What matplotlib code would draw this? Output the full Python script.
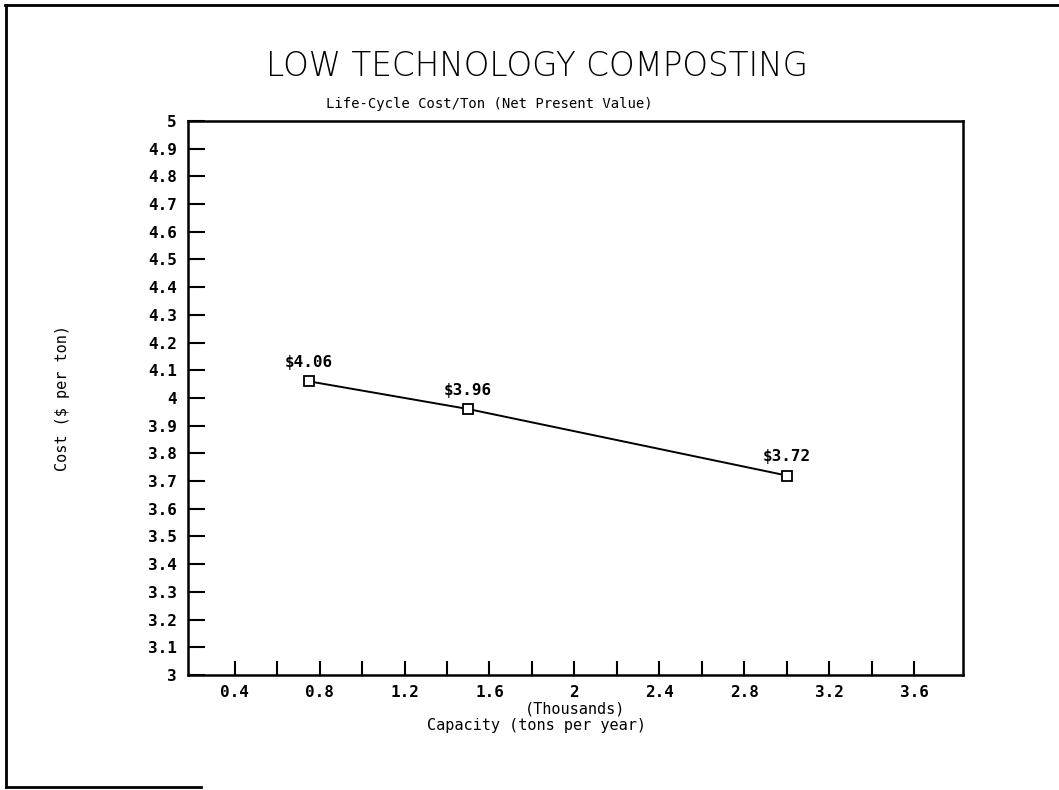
import matplotlib
matplotlib.use('Agg')
import matplotlib.pyplot as plt
from matplotlib.lines import Line2D

# data
capacity = [0.75, 1.5, 3.0]          # thousands of tons per year
cost = [4.06, 3.96, 3.72]            # $ per ton
cost_labels = ['$4.06', '$3.96', '$3.72']
x_ticks = [0.4, 0.8, 1.2, 1.6, 2.0, 2.4, 2.8, 3.2, 3.6]
x_tick_labels = ['0.4', '0.8', '1.2', '1.6', '2', '2.4', '2.8', '3.2', '3.6']
y_ticks = [3 + i / 10 for i in range(21)]

mono = 'DejaVu Sans Mono'

fig = plt.figure(figsize=(10.59, 7.90), dpi=100)
ax = fig.add_axes([0.1775, 0.1456, 0.7318, 0.7013])

ax.plot(capacity, cost, color='black', lw=1.4, marker='s', markersize=6.5,
        markerfacecolor='white', markeredgecolor='black', markeredgewidth=1.3)
for x, y, lab in zip(capacity, cost, cost_labels):
    ax.annotate(lab, (x, y), xytext=(0, 8), textcoords='offset points',
                ha='center', va='bottom', fontsize=11.5, family=mono,
                fontweight='bold')

ax.set_xlim(0.18, 3.83)
ax.set_ylim(3, 5)
ax.set_xticks(x_ticks)
ax.set_xticklabels(x_tick_labels, family=mono, fontsize=11.5, fontweight='bold')
ax.set_xticks([0.4 + 0.2 * i for i in range(17)], minor=True)
ax.set_yticks(y_ticks)
ax.set_yticklabels(['%g' % round(v, 1) for v in y_ticks], family=mono,
                   fontsize=11.5, fontweight='bold')
ax.tick_params(axis='both', which='both', direction='in', width=1.5)
ax.tick_params(axis='y', length=12, pad=8, right=False)
ax.tick_params(axis='x', which='both', length=10, pad=7, top=False)
for s in ax.spines.values():
    s.set_linewidth(1.8)

ax.set_ylabel('Cost ($ per ton)', family=mono, fontsize=11, labelpad=56)
ax.set_xlabel('(Thousands)', family=mono, fontsize=11, labelpad=1)
fig.text(0.507, 0.082, 'Capacity (tons per year)', ha='center', va='center',
         family=mono, fontsize=11)

fig.text(0.507, 0.916, 'LOW TECHNOLOGY COMPOSTING', ha='center', va='center',
         fontsize=23.5, family='DejaVu Sans', fontweight='light')
fig.text(0.462, 0.868, 'Life-Cycle Cost/Ton (Net Present Value)', ha='center',
         va='center', fontsize=10, family=mono)

# scanned page border: top, left and a short piece of the bottom
fig.add_artist(Line2D([0.005, 1.0], [0.994, 0.994], color='black', lw=2))
fig.add_artist(Line2D([0.006, 0.006], [0.004, 0.994], color='black', lw=2))
fig.add_artist(Line2D([0.006, 0.19], [0.004, 0.004], color='black', lw=2))

fig.savefig('out.png', dpi=100)
